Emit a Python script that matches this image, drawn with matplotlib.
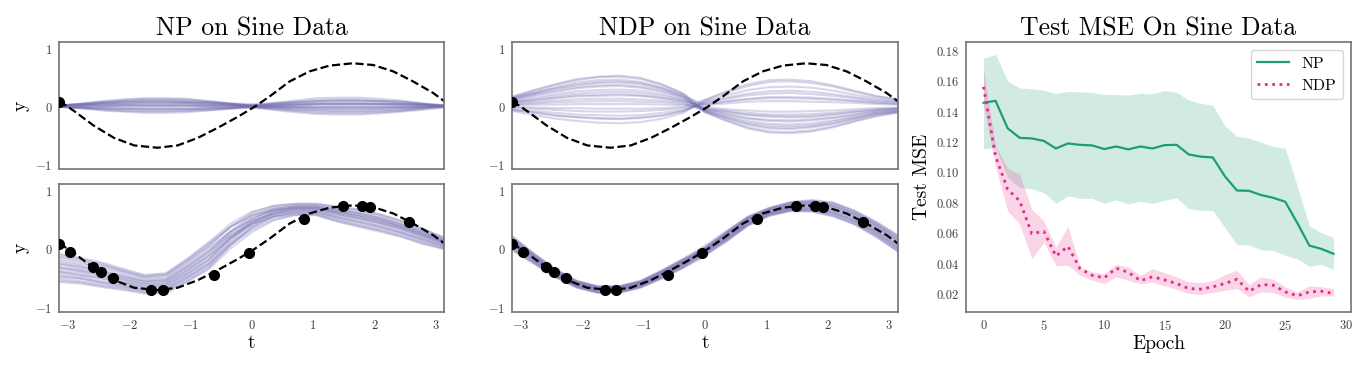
import numpy as np
import matplotlib
matplotlib.use("Agg")
import matplotlib.pyplot as plt

plt.rcParams['font.family'] = 'serif'
plt.rcParams['font.serif'] = ['cmr10']
plt.rcParams['mathtext.fontset'] = 'cm'
plt.rcParams['axes.formatter.use_mathtext'] = True

PURPLE = '#7570b3'
GREEN = '#1b9e77'
PINK = '#e7298a'

#%% sine panels data
t_true = [-3.14, -2.9, -2.58, -2.25, -1.92, -1.54, -1.21, -0.88, -0.56, -0.23, 0.04,
          0.29, 0.62, 0.94, 1.27, 1.65, 1.98, 2.31, 2.63, 2.96, 3.14]
y_true = [0.10, -0.07, -0.32, -0.53, -0.66, -0.70, -0.66, -0.53, -0.36, -0.17, 0.0,
          0.18, 0.44, 0.61, 0.71, 0.75, 0.72, 0.61, 0.44, 0.24, 0.10]

t_ctx = [-3.147, -2.967, -2.586, -2.455, -2.269, -1.637, -1.45, -0.611, -0.043,
         0.846, 1.484, 1.8, 1.926, 2.569]
y_ctx = [0.091, -0.051, -0.313, -0.393, -0.496, -0.695, -0.701, -0.444, -0.063,
         0.524, 0.735, 0.735, 0.718, 0.467]

t_samp = [-3.14, -2.79, -2.44, -2.09, -1.75, -1.40, -1.05, -0.70, -0.35, 0.0,
          0.35, 0.70, 1.05, 1.40, 1.75, 2.09, 2.44, 2.79, 3.14]

# NP, no context
np_prior = [
    [0.02, 0.06, 0.09, 0.12, 0.14, 0.14, 0.13, 0.10, 0.06, 0.02, 0.01, 0.01, 0.01, 0.01, 0.01, 0.01, 0.01, 0.01, 0.01],
    [0.01, -0.02, -0.06, -0.08, -0.10, -0.10, -0.09, -0.06, -0.03, 0.02, 0.05, 0.08, 0.10, 0.11, 0.11, 0.10, 0.08, 0.05, 0.02],
    [0.02, 0.03, 0.03, 0.04, 0.04, 0.04, 0.04, 0.03, 0.03, 0.02, 0.01, 0.00, -0.01, -0.01, -0.01, -0.01, 0.00, 0.01, 0.02],
    [0.01, 0.03, 0.04, 0.05, 0.06, 0.06, 0.06, 0.04, 0.03, 0.02, 0.06, 0.09, 0.12, 0.13, 0.13, 0.11, 0.09, 0.05, 0.02],
    [0.00, -0.01, -0.02, -0.03, -0.03, -0.03, -0.03, -0.02, -0.01, -0.01, -0.05, -0.09, -0.12, -0.13, -0.13, -0.11, -0.08, -0.05, -0.01],
    [0.03, 0.04, 0.06, 0.06, 0.07, 0.07, 0.07, 0.06, 0.05, 0.03, 0.04, 0.04, 0.05, 0.05, 0.05, 0.05, 0.05, 0.04, 0.03],
    [0.01, -0.01, -0.02, -0.03, -0.04, -0.04, -0.04, -0.02, -0.01, 0.01, 0.03, 0.04, 0.06, 0.06, 0.06, 0.05, 0.04, 0.03, 0.01],
    [0.01, 0.04, 0.06, 0.08, 0.09, 0.09, 0.08, 0.06, 0.04, 0.01, -0.02, -0.04, -0.05, -0.06, -0.06, -0.05, -0.04, -0.02, 0.01],
    [0.00, -0.02, -0.04, -0.06, -0.07, -0.07, -0.06, -0.05, -0.03, -0.01, -0.01, -0.02, -0.03, -0.03, -0.03, -0.03, -0.02, -0.01, 0.00],
    [0.02, 0.05, 0.07, 0.10, 0.11, 0.11, 0.10, 0.08, 0.05, 0.03, 0.07, 0.11, 0.15, 0.16, 0.16, 0.14, 0.11, 0.06, 0.02],
    [0.02, 0.02, 0.02, 0.02, 0.02, 0.02, 0.02, 0.02, 0.02, 0.01, -0.01, -0.04, -0.06, -0.07, -0.07, -0.06, -0.04, -0.01, 0.02],
    [0.02, 0.02, 0.03, 0.03, 0.03, 0.03, 0.03, 0.03, 0.02, 0.02, 0.04, 0.05, 0.06, 0.06, 0.06, 0.05, 0.05, 0.04, 0.02],
    [0.02, 0.05, 0.08, 0.10, 0.12, 0.12, 0.11, 0.08, 0.05, 0.01, -0.04, -0.07, -0.10, -0.11, -0.11, -0.09, -0.07, -0.03, 0.00],
    [0.01, -0.02, -0.05, -0.07, -0.08, -0.08, -0.07, -0.05, -0.02, 0.01, 0.02, 0.03, 0.04, 0.04, 0.04, 0.04, 0.03, 0.03, 0.01],
    [0.02, 0.04, 0.06, 0.07, 0.08, 0.08, 0.07, 0.06, 0.04, 0.02, 0.00, -0.01, -0.02, -0.03, -0.03, -0.02, -0.01, 0.00, 0.02],
    [0.00, 0.01, 0.01, 0.02, 0.02, 0.02, 0.02, 0.01, 0.01, 0.00, 0.00, 0.00, 0.00, 0.00, 0.00, 0.00, 0.00, 0.00, 0.00],
    [0.01, 0.05, 0.10, 0.13, 0.15, 0.15, 0.14, 0.10, 0.06, 0.02, 0.02, 0.04, 0.05, 0.06, 0.06, 0.06, 0.05, 0.04, 0.02],
    [0.01, 0.00, 0.00, -0.01, -0.01, -0.01, -0.01, 0.00, 0.00, 0.00, -0.03, -0.06, -0.08, -0.09, -0.09, -0.08, -0.06, -0.03, 0.01],
    [0.03, 0.05, 0.07, 0.09, 0.10, 0.10, 0.09, 0.08, 0.06, 0.05, 0.06, 0.08, 0.10, 0.11, 0.11, 0.10, 0.09, 0.06, 0.03],
    [0.00, -0.01, -0.03, -0.03, -0.04, -0.04, -0.04, -0.03, -0.02, 0.00, 0.04, 0.07, 0.09, 0.10, 0.10, 0.09, 0.06, 0.04, 0.01],
]

# NDP, no context
ndp_prior = [
    [0.17, 0.28, 0.38, 0.46, 0.51, 0.52, 0.48, 0.38, 0.22, -0.07, -0.17, -0.27, -0.32, -0.33, -0.31, -0.25, -0.18, -0.11, -0.07],
    [0.12, 0.20, 0.26, 0.32, 0.35, 0.36, 0.33, 0.26, 0.16, -0.05, -0.13, -0.20, -0.24, -0.25, -0.23, -0.19, -0.14, -0.08, -0.05],
    [0.15, 0.24, 0.32, 0.39, 0.43, 0.44, 0.41, 0.32, 0.19, -0.09, -0.23, -0.35, -0.42, -0.43, -0.40, -0.33, -0.24, -0.15, -0.09],
    [-0.07, -0.14, -0.20, -0.24, -0.27, -0.28, -0.26, -0.20, -0.10, 0.12, 0.25, 0.36, 0.43, 0.44, 0.41, 0.35, 0.26, 0.18, 0.13],
    [0.07, 0.11, 0.15, 0.18, 0.19, 0.20, 0.19, 0.15, 0.09, -0.02, -0.06, -0.10, -0.13, -0.13, -0.12, -0.10, -0.07, -0.04, -0.02],
    [0.18, 0.29, 0.39, 0.48, 0.52, 0.54, 0.50, 0.39, 0.23, -0.04, -0.09, -0.14, -0.17, -0.18, -0.17, -0.14, -0.10, -0.06, -0.03],
    [-0.03, -0.07, -0.10, -0.13, -0.14, -0.15, -0.14, -0.10, -0.05, 0.07, 0.14, 0.20, 0.23, 0.24, 0.22, 0.19, 0.15, 0.10, 0.08],
    [0.09, 0.14, 0.19, 0.23, 0.25, 0.26, 0.24, 0.19, 0.12, -0.06, -0.16, -0.24, -0.29, -0.30, -0.28, -0.23, -0.17, -0.10, -0.06],
    [-0.01, -0.03, -0.05, -0.07, -0.08, -0.08, -0.07, -0.05, -0.02, 0.05, 0.09, 0.13, 0.15, 0.15, 0.14, 0.12, 0.10, 0.07, 0.05],
    [0.13, 0.21, 0.28, 0.34, 0.37, 0.38, 0.35, 0.28, 0.16, -0.09, -0.24, -0.37, -0.44, -0.45, -0.42, -0.35, -0.25, -0.16, -0.10],
    [0.03, 0.04, 0.04, 0.05, 0.05, 0.05, 0.05, 0.04, 0.03, 0.00, -0.04, -0.06, -0.08, -0.08, -0.07, -0.06, -0.04, -0.02, -0.01],
    [-0.05, -0.10, -0.15, -0.18, -0.20, -0.21, -0.19, -0.15, -0.07, 0.08, 0.16, 0.23, 0.27, 0.28, 0.26, 0.22, 0.17, 0.12, 0.09],
    [0.10, 0.17, 0.22, 0.27, 0.29, 0.30, 0.28, 0.22, 0.13, -0.03, -0.08, -0.13, -0.15, -0.16, -0.15, -0.12, -0.08, -0.05, -0.03],
    [0.08, 0.12, 0.16, 0.20, 0.21, 0.22, 0.20, 0.16, 0.10, 0.03, 0.06, 0.09, 0.10, 0.10, 0.09, 0.08, 0.07, 0.05, 0.04],
    [0.16, 0.25, 0.34, 0.42, 0.46, 0.47, 0.43, 0.34, 0.20, -0.08, -0.19, -0.29, -0.35, -0.36, -0.33, -0.28, -0.20, -0.12, -0.08],
    [-0.05, -0.09, -0.14, -0.17, -0.19, -0.20, -0.18, -0.14, -0.07, 0.10, 0.20, 0.29, 0.34, 0.35, 0.33, 0.28, 0.21, 0.15, 0.10],
    [0.06, 0.08, 0.11, 0.13, 0.14, 0.14, 0.13, 0.11, 0.07, -0.07, -0.20, -0.31, -0.37, -0.38, -0.35, -0.29, -0.21, -0.13, -0.08],
    [0.14, 0.23, 0.31, 0.37, 0.41, 0.42, 0.39, 0.31, 0.18, 0.04, 0.10, 0.14, 0.17, 0.17, 0.16, 0.14, 0.11, 0.08, 0.06],
    [0.04, 0.06, 0.08, 0.09, 0.10, 0.10, 0.09, 0.08, 0.05, -0.04, -0.12, -0.19, -0.22, -0.23, -0.21, -0.18, -0.13, -0.08, -0.04],
    [0.01, -0.01, -0.02, -0.02, -0.03, -0.03, -0.03, -0.02, 0.00, 0.12, 0.27, 0.39, 0.46, 0.47, 0.44, 0.37, 0.28, 0.19, 0.13],
]

# NP, with context
np_post = [
    [-0.08, -0.15, -0.23, -0.34, -0.44, -0.41, -0.16, 0.12, 0.43, 0.64, 0.74, 0.77, 0.77, 0.72, 0.67, 0.59, 0.48, 0.34, 0.19],
    [-0.15, -0.22, -0.29, -0.39, -0.49, -0.46, -0.22, 0.05, 0.38, 0.62, 0.74, 0.78, 0.78, 0.73, 0.68, 0.60, 0.49, 0.35, 0.20],
    [-0.22, -0.28, -0.36, -0.45, -0.54, -0.51, -0.28, -0.02, 0.30, 0.53, 0.66, 0.71, 0.71, 0.64, 0.58, 0.50, 0.39, 0.26, 0.13],
    [-0.30, -0.35, -0.42, -0.50, -0.58, -0.56, -0.34, -0.09, 0.26, 0.52, 0.68, 0.73, 0.73, 0.67, 0.61, 0.53, 0.42, 0.29, 0.15],
    [-0.37, -0.41, -0.48, -0.56, -0.63, -0.61, -0.40, -0.16, 0.18, 0.44, 0.60, 0.67, 0.67, 0.59, 0.52, 0.44, 0.34, 0.21, 0.09],
    [-0.44, -0.48, -0.55, -0.61, -0.68, -0.67, -0.46, -0.23, 0.11, 0.37, 0.55, 0.62, 0.62, 0.52, 0.44, 0.36, 0.27, 0.14, 0.04],
    [-0.51, -0.55, -0.61, -0.66, -0.73, -0.72, -0.52, -0.29, 0.07, 0.36, 0.56, 0.64, 0.64, 0.55, 0.47, 0.39, 0.29, 0.17, 0.06],
    [-0.56, -0.59, -0.65, -0.70, -0.76, -0.75, -0.56, -0.34, 0.01, 0.29, 0.49, 0.58, 0.58, 0.47, 0.38, 0.30, 0.21, 0.09, 0.00],
    [-0.10, -0.17, -0.25, -0.36, -0.46, -0.43, -0.18, 0.10, 0.38, 0.57, 0.66, 0.70, 0.70, 0.63, 0.56, 0.48, 0.38, 0.25, 0.12],
    [-0.19, -0.25, -0.32, -0.42, -0.51, -0.49, -0.25, 0.02, 0.30, 0.49, 0.60, 0.65, 0.65, 0.56, 0.49, 0.41, 0.31, 0.18, 0.07],
    [-0.26, -0.32, -0.39, -0.48, -0.56, -0.54, -0.31, -0.05, 0.30, 0.57, 0.71, 0.76, 0.76, 0.70, 0.65, 0.57, 0.46, 0.32, 0.18],
    [-0.33, -0.38, -0.45, -0.53, -0.61, -0.59, -0.37, -0.12, 0.19, 0.42, 0.57, 0.63, 0.63, 0.54, 0.46, 0.38, 0.28, 0.16, 0.05],
    [-0.40, -0.45, -0.51, -0.58, -0.66, -0.64, -0.43, -0.19, 0.17, 0.46, 0.63, 0.70, 0.70, 0.63, 0.56, 0.48, 0.38, 0.25, 0.12],
    [-0.48, -0.51, -0.58, -0.64, -0.70, -0.69, -0.49, -0.26, 0.07, 0.33, 0.51, 0.59, 0.59, 0.48, 0.40, 0.32, 0.22, 0.10, 0.01],
    [-0.54, -0.57, -0.63, -0.68, -0.74, -0.73, -0.54, -0.32, 0.07, 0.39, 0.60, 0.68, 0.68, 0.60, 0.53, 0.45, 0.35, 0.22, 0.10],
    [-0.32, -0.37, -0.44, -0.52, -0.60, -0.58, -0.36, -0.11, 0.22, 0.47, 0.62, 0.68, 0.68, 0.60, 0.53, 0.45, 0.35, 0.22, 0.10],
    [-0.25, -0.30, -0.38, -0.47, -0.55, -0.53, -0.30, -0.04, 0.24, 0.43, 0.55, 0.60, 0.60, 0.50, 0.41, 0.33, 0.24, 0.12, 0.02],
    [-0.39, -0.44, -0.50, -0.57, -0.65, -0.63, -0.42, -0.18, 0.20, 0.50, 0.67, 0.74, 0.74, 0.68, 0.62, 0.54, 0.43, 0.30, 0.16],
    [-0.13, -0.19, -0.27, -0.38, -0.47, -0.44, -0.20, 0.07, 0.38, 0.59, 0.69, 0.73, 0.73, 0.67, 0.61, 0.53, 0.42, 0.29, 0.15],
    [-0.46, -0.50, -0.57, -0.63, -0.70, -0.68, -0.48, -0.25, 0.13, 0.44, 0.64, 0.71, 0.71, 0.64, 0.58, 0.50, 0.39, 0.26, 0.13],
]

# NDP, with context
ndp_post = [
    [0.22, -0.07, -0.34, -0.54, -0.63, -0.63, -0.54, -0.36, -0.16, 0.06, 0.31, 0.56, 0.71, 0.81, 0.84, 0.80, 0.66, 0.47, 0.24],
    [0.03, -0.21, -0.45, -0.64, -0.73, -0.73, -0.64, -0.47, -0.29, -0.09, 0.15, 0.42, 0.58, 0.67, 0.66, 0.58, 0.44, 0.24, -0.01],
    [0.14, -0.13, -0.39, -0.58, -0.67, -0.67, -0.58, -0.41, -0.22, 0.01, 0.27, 0.52, 0.68, 0.77, 0.79, 0.74, 0.60, 0.41, 0.17],
    [-0.02, -0.25, -0.48, -0.66, -0.75, -0.75, -0.66, -0.50, -0.32, -0.12, 0.14, 0.41, 0.58, 0.66, 0.65, 0.57, 0.43, 0.22, -0.03],
    [0.18, -0.10, -0.36, -0.56, -0.65, -0.65, -0.56, -0.38, -0.18, 0.01, 0.24, 0.50, 0.65, 0.75, 0.76, 0.70, 0.56, 0.37, 0.13],
    [0.06, -0.19, -0.43, -0.62, -0.71, -0.71, -0.62, -0.45, -0.26, -0.05, 0.20, 0.46, 0.63, 0.71, 0.72, 0.66, 0.52, 0.31, 0.07],
    [0.11, -0.15, -0.40, -0.59, -0.68, -0.68, -0.59, -0.42, -0.23, -0.04, 0.18, 0.45, 0.61, 0.70, 0.70, 0.63, 0.49, 0.29, 0.04],
    [0.00, -0.23, -0.47, -0.65, -0.74, -0.74, -0.65, -0.49, -0.30, -0.04, 0.27, 0.53, 0.68, 0.78, 0.80, 0.75, 0.61, 0.42, 0.18],
    [0.16, -0.12, -0.38, -0.57, -0.66, -0.66, -0.57, -0.40, -0.20, 0.03, 0.29, 0.54, 0.70, 0.79, 0.82, 0.78, 0.64, 0.44, 0.21],
    [0.05, -0.20, -0.44, -0.62, -0.71, -0.71, -0.62, -0.46, -0.27, -0.03, 0.25, 0.50, 0.66, 0.75, 0.77, 0.72, 0.58, 0.38, 0.14],
    [0.20, -0.09, -0.35, -0.55, -0.64, -0.64, -0.55, -0.37, -0.18, -0.02, 0.18, 0.44, 0.61, 0.69, 0.69, 0.62, 0.48, 0.28, 0.03],
    [0.09, -0.17, -0.42, -0.61, -0.70, -0.70, -0.61, -0.44, -0.25, -0.08, 0.13, 0.40, 0.57, 0.65, 0.64, 0.56, 0.42, 0.21, -0.04],
    [0.12, -0.14, -0.40, -0.59, -0.68, -0.68, -0.59, -0.42, -0.22, 0.02, 0.30, 0.55, 0.70, 0.80, 0.83, 0.79, 0.65, 0.46, 0.23],
    [0.02, -0.22, -0.46, -0.64, -0.73, -0.73, -0.64, -0.48, -0.30, -0.07, 0.19, 0.46, 0.62, 0.71, 0.71, 0.64, 0.50, 0.30, 0.06],
    [0.10, -0.16, -0.41, -0.60, -0.69, -0.69, -0.60, -0.43, -0.24, -0.03, 0.23, 0.49, 0.65, 0.74, 0.75, 0.69, 0.55, 0.35, 0.11],
    [0.15, -0.12, -0.38, -0.58, -0.67, -0.67, -0.58, -0.40, -0.21, -0.04, 0.16, 0.42, 0.59, 0.67, 0.67, 0.60, 0.46, 0.25, 0.00],
    [0.21, -0.08, -0.35, -0.55, -0.64, -0.64, -0.55, -0.37, -0.17, 0.03, 0.26, 0.51, 0.67, 0.76, 0.78, 0.73, 0.59, 0.39, 0.16],
    [0.08, -0.18, -0.42, -0.61, -0.70, -0.70, -0.61, -0.44, -0.26, -0.01, 0.28, 0.54, 0.69, 0.79, 0.81, 0.76, 0.62, 0.43, 0.20],
    [0.17, -0.11, -0.37, -0.56, -0.65, -0.65, -0.56, -0.39, -0.19, -0.01, 0.21, 0.47, 0.63, 0.72, 0.73, 0.67, 0.53, 0.33, 0.09],
    [-0.01, -0.24, -0.47, -0.65, -0.74, -0.74, -0.65, -0.49, -0.31, -0.10, 0.17, 0.43, 0.60, 0.68, 0.68, 0.61, 0.47, 0.26, 0.02],
]

#%% MSE data
epochs = list(range(30))
np_mean = [0.1462, 0.1475, 0.1294, 0.1231, 0.1227, 0.1211, 0.1161, 0.1194, 0.1185, 0.1181,
           0.1157, 0.1174, 0.1155, 0.1174, 0.1161, 0.1183, 0.1185, 0.1122, 0.1107, 0.1102,
           0.0978, 0.0884, 0.0882, 0.0854, 0.0836, 0.0810, 0.0670, 0.0521, 0.0499, 0.0467]
np_upper = [0.1756, 0.1780, 0.1606, 0.1560, 0.1554, 0.1545, 0.1523, 0.1536, 0.1534, 0.1530,
            0.1517, 0.1517, 0.1512, 0.1525, 0.1521, 0.1543, 0.1530, 0.1480, 0.1458, 0.1447,
            0.1310, 0.1240, 0.1229, 0.1203, 0.1174, 0.1163, 0.0913, 0.0652, 0.0605, 0.0574]
np_lower = [0.1160, 0.1165, 0.0970, 0.0903, 0.0895, 0.0870, 0.0800, 0.0848, 0.0833, 0.0832,
            0.0800, 0.0823, 0.0796, 0.0813, 0.0799, 0.0819, 0.0836, 0.0765, 0.0754, 0.0750,
            0.0641, 0.0527, 0.0525, 0.0493, 0.0490, 0.0456, 0.0434, 0.0384, 0.0399, 0.0362]
ndp_mean = [0.1567, 0.1110, 0.0892, 0.0815, 0.0600, 0.0615, 0.0452, 0.0516, 0.0369, 0.0325,
            0.0308, 0.0372, 0.0345, 0.0290, 0.0315, 0.0295, 0.0271, 0.0238, 0.0234, 0.0249,
            0.0271, 0.0299, 0.0220, 0.0264, 0.0260, 0.0216, 0.0190, 0.0216, 0.0220, 0.0205]
ndp_upper = [0.1687, 0.1175, 0.1033, 0.0990, 0.0760, 0.0684, 0.0512, 0.0648, 0.0380, 0.0347,
             0.0337, 0.0397, 0.0380, 0.0325, 0.0368, 0.0343, 0.0314, 0.0282, 0.0277, 0.0290,
             0.0329, 0.0357, 0.0264, 0.0314, 0.0300, 0.0249, 0.0216, 0.0256, 0.0249, 0.0238]
ndp_lower = [0.1447, 0.1040, 0.0750, 0.0663, 0.0434, 0.0543, 0.0390, 0.0390, 0.0325, 0.0292,
             0.0271, 0.0315, 0.0292, 0.0270, 0.0280, 0.0256, 0.0234, 0.0205, 0.0199, 0.0212,
             0.0227, 0.0238, 0.0184, 0.0216, 0.0212, 0.0180, 0.0166, 0.0173, 0.0190, 0.0188]

#%% figure
W, H = 1371, 372
fig = plt.figure(figsize=(W / 100, H / 100), dpi=100)
fig.patch.set_facecolor('white')


def px_axes(x0, y0, x1, y1):
    return fig.add_axes([x0 / W, 1 - y1 / H, (x1 - x0) / W, (y1 - y0) / H])


def style(ax):
    for s in ax.spines.values():
        s.set_color('0.45')
        s.set_linewidth(1.2)
    ax.tick_params(length=0, labelsize=9, pad=5, colors='0.25')


def sine_panel(ax, curves, ctx_t, ctx_y, bottom):
    for c in curves:
        ax.plot(t_samp, c, color=PURPLE, alpha=0.28, lw=1.5, zorder=1)
    ax.plot(t_true, y_true, color='black', ls='--', lw=1.6, zorder=2)
    ax.plot(ctx_t, ctx_y, 'o', color='black', ms=7, zorder=3)
    ax.set_xlim(-np.pi, np.pi)
    ax.set_ylim(-1.07, 1.11)
    ax.set_yticks([-1, 0, 1])
    style(ax)
    if bottom:
        ax.set_xticks([-3, -2, -1, 0, 1, 2, 3])
        ax.set_xlabel('t', fontsize=14, labelpad=2)
    else:
        ax.set_xticks([])


ax1 = px_axes(59.3, 42.3, 444.3, 169.3)
sine_panel(ax1, np_prior, t_ctx[:1], y_ctx[:1], False)
ax1.set_ylabel('y', fontsize=14, labelpad=4)
ax1.set_title('NP on Sine Data', fontsize=18.5, pad=5)

ax2 = px_axes(59.3, 184.3, 444.3, 311.7)
sine_panel(ax2, np_post, t_ctx, y_ctx, True)
ax2.set_ylabel('y', fontsize=14, labelpad=4)

ax3 = px_axes(512.3, 42.3, 897.7, 169.3)
sine_panel(ax3, ndp_prior, t_ctx[:1], y_ctx[:1], False)
ax3.set_title('NDP on Sine Data', fontsize=18.5, pad=5)

ax4 = px_axes(512.3, 184.3, 897.7, 311.7)
sine_panel(ax4, ndp_post, t_ctx, y_ctx, True)

ax5 = px_axes(966, 42.3, 1351, 311.7)
ax5.fill_between(epochs, np_lower, np_upper, color=GREEN, alpha=0.2, lw=0)
ax5.plot(epochs, np_mean, color=GREEN, lw=1.6, label='NP')
ax5.fill_between(epochs, ndp_lower, ndp_upper, color=PINK, alpha=0.2, lw=0)
ax5.plot(epochs, ndp_mean, color=PINK, lw=2, ls=':', label='NDP')
ax5.set_xticks([0, 5, 10, 15, 20, 25, 30])
ax5.set_yticks([0.02, 0.04, 0.06, 0.08, 0.10, 0.12, 0.14, 0.16, 0.18])
ax5.set_yticklabels(['0.02', '0.04', '0.06', '0.08', '0.10', '0.12', '0.14', '0.16', '0.18'])
style(ax5)
ax5.set_xlabel('Epoch', fontsize=14, labelpad=2)
ax5.set_ylabel('Test MSE', fontsize=14, labelpad=4)
ax5.set_title('Test MSE On Sine Data', fontsize=18.5, pad=5)
ax5.legend(loc='upper right', fontsize=11.5, frameon=True, edgecolor='0.8')

fig.savefig('out.png', dpi=100, facecolor='white')
